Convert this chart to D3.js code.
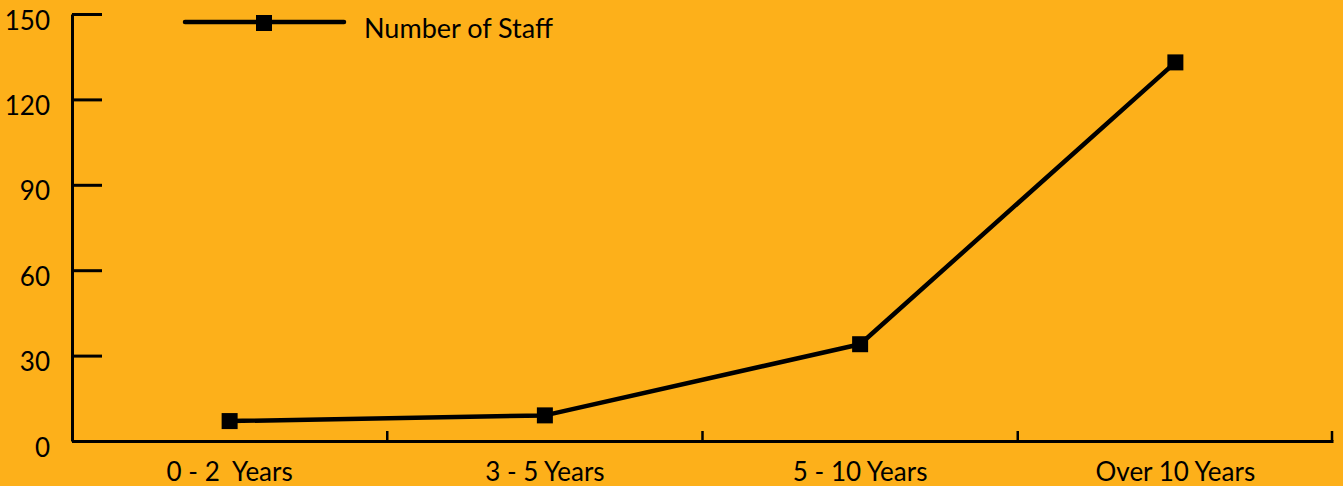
<!DOCTYPE html>
<html><head><meta charset="utf-8">
<script src="https://cdn.jsdelivr.net/npm/d3@7"></script>
<style>
html,body{margin:0;padding:0;background:#FDB01A;}
svg{display:block;}
text{font-family:Lato, "Noto Sans", sans-serif;fill:#000;}
</style></head><body>
<svg id="c" width="1343" height="486"></svg>
<script>
const categories = ["0 - 2  Years", "3 - 5 Years", "5 - 10 Years", "Over 10 Years"];
const staff = [7, 9, 34, 133];
const yTicks = [0, 30, 60, 90, 120, 150];
const seriesName = "Number of Staff";

const W = 1343, H = 486;
const m = {left: 72, right: 10, top: 14, bottom: 45};
const svg = d3.select("#c");
svg.append("rect").attr("width", W).attr("height", H).attr("fill", "#FDB01A");

const x = d3.scaleBand().domain(categories).range([m.left, W - m.right]);
const y = d3.scaleLinear().domain([0, 150]).range([H - m.bottom, m.top]);

// Y axis
const ya = svg.append("g").attr("transform", `translate(${m.left},0)`)
  .call(d3.axisLeft(y).tickValues(yTicks).tickSize(-30).tickPadding(22).tickSizeOuter(0));
ya.select(".domain").attr("stroke", "#000").attr("stroke-width", 3);
ya.selectAll(".tick line").attr("stroke", "#000").attr("stroke-width", 3);
ya.selectAll(".tick text").attr("font-size", 26).attr("dy", "0.58em").attr("x", -22)
  .style("font-family", "Lato, sans-serif");

// X axis
const xa = svg.append("g").attr("transform", `translate(0,${H - m.bottom})`)
  .call(d3.axisBottom(x).tickSize(0).tickPadding(17).tickSizeOuter(0));
xa.select(".domain").attr("stroke", "#000").attr("stroke-width", 3);
xa.selectAll(".tick text").attr("font-size", 26).attr("dy", "0.9em").style("white-space", "pre")
  .style("font-family", "Lato, sans-serif");
// boundary ticks upward
const bounds = categories.slice(1).map(c => x(c)).concat([x.range()[1] - 1]);
xa.selectAll(".bt").data(bounds).join("line").attr("class", "bt")
  .attr("x1", d => d).attr("x2", d => d).attr("y1", 0).attr("y2", -10)
  .attr("stroke", "#000").attr("stroke-width", 2.5);

// Line
const cx = d => x(d) + x.bandwidth() / 2;
const line = d3.line().x((d, i) => cx(categories[i])).y(d => y(d));
svg.append("path").datum(staff).attr("d", line).attr("fill", "none")
  .attr("stroke", "#000").attr("stroke-width", 4.5).attr("stroke-linejoin", "round");
svg.selectAll(".pt").data(staff).join("rect").attr("class", "pt")
  .attr("x", (d, i) => cx(categories[i]) - 8).attr("y", d => y(d) - 8)
  .attr("width", 16).attr("height", 16).attr("fill", "#000");

// Legend
const lg = svg.append("g");
lg.append("line").attr("x1", 185).attr("x2", 344).attr("y1", 22).attr("y2", 22)
  .attr("stroke", "#000").attr("stroke-width", 4.5).attr("stroke-linecap", "round");
lg.append("rect").attr("x", 256).attr("y", 15).attr("width", 16).attr("height", 16).attr("fill", "#000");
lg.append("text").attr("x", 364).attr("y", 38).attr("font-size", 27).text(seriesName);
</script>
</body></html>
